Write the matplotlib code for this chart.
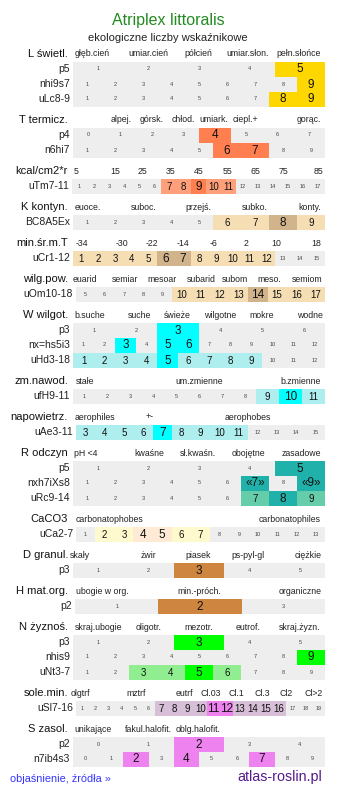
import matplotlib.pyplot as plt

plt.rcParams['font.family'] = ['Liberation Sans', 'DejaVu Sans']

title = 'Atriplex littoralis'
subtitle = 'ekologiczne liczby wskaźnikowe'
link_text = 'objaśnienie, źródła »'
site_text = 'atlas-roslin.pl'

# marks: 1 = main value (big), 2 = secondary value (medium)
L_head = 'L świetl.'
L_cats = ['głęb.cień', 'umiar.cień', 'półcień', 'umiar.słon.', 'pełn.słońce']
L_rows = ['p5', 'nhi9s7', 'uLc8-9']
L_ranges = [(1, 5), (1, 9), (1, 9)]
L_marks = [{5: 1}, {9: 1}, {8: 1, 9: 1}]

T_head = 'T termicz.'
T_cats = ['alpej.', 'górsk.', 'chłod.', 'umiark.', 'ciepl.+', 'gorąc.']
T_rows = ['p4', 'n6hi7']
T_ranges = [(0, 7), (1, 9)]
T_marks = [{4: 1}, {6: 1, 7: 1}]

E_head = 'kcal/cm2*r'
E_cats = ['5', '15', '25', '35', '45', '55', '65', '75', '85']
E_rows = ['uTm7-11']
E_ranges = [(1, 17)]
E_marks = [{7: 2, 8: 2, 9: 1, 10: 2, 11: 2}]

K_head = 'K kontyn.'
K_cats = ['euoce.', 'suboc.', 'przejś.', 'subko.', 'konty.']
K_rows = ['BC8A5Ex']
K_ranges = [(1, 9)]
K_marks = [{6: 2, 7: 2, 8: 1, 9: 2}]

C_head = 'min.śr.m.T'
C_cats = ['-34', '-30', '-22', '-14', '-6', '2', '10', '18']
C_rows = ['uCr1-12']
C_ranges = [(1, 15)]
C_marks = [{1: 2, 2: 2, 3: 2, 4: 2, 5: 2, 6: 1, 7: 1, 8: 2, 9: 2, 10: 2, 11: 2, 12: 2}]

O_head = 'wilg.pow.'
O_cats = ['euarid', 'semiar', 'mesoar', 'subarid', 'subom', 'meso.', 'semiom']
O_rows = ['uOm10-18']
O_ranges = [(5, 17)]
O_marks = [{10: 2, 11: 2, 12: 2, 13: 2, 14: 1, 15: 2, 16: 2, 17: 2}]

W_head = 'W wilgot.'
W_cats = ['b.suche', 'suche', 'świeże', 'wilgotne', 'mokre', 'wodne']
W_rows = ['p3', 'nx=hs5i3', 'uHd3-18']
W_ranges = [(1, 6), (1, 12), (1, 12)]
W_marks = [{3: 1}, {3: 1, 5: 1, 6: 1},
           {1: 2, 2: 2, 3: 2, 4: 2, 5: 1, 6: 2, 7: 2, 8: 2, 9: 2}]

F_head = 'zm.nawod.'
F_cats = ['stałe', 'um.zmienne', 'b.zmienne']
F_rows = ['ufH9-11']
F_ranges = [(1, 11)]
F_marks = [{9: 2, 10: 1, 11: 2}]

A_head = 'napowietrz.'
A_cats = ['aerophiles', '+-', 'aerophobes']
A_rows = ['uAe3-11']
A_ranges = [(3, 15)]
A_marks = [{3: 2, 4: 2, 5: 2, 6: 2, 7: 1, 8: 2, 9: 2, 10: 2, 11: 2}]

R_head = 'R odczyn'
R_cats = ['pH <4', 'kwaśne', 'sł.kwaśn.', 'obojętne', 'zasadowe']
R_rows = ['p5', 'nxh7iXs8', 'uRc9-14']
R_ranges = [(1, 5), (1, 9), (1, 9)]
R_marks = [{5: 1}, {7: 1, 9: 1}, {7: 2, 8: 1, 9: 2}]
R_texts = [{}, {7: '«7»', 9: '«9»'}, {}]

Ca_head = 'CaCO3'
Ca_cats = ['carbonatophobes', 'carbonatophiles']
Ca_rows = ['uCa2-7']
Ca_ranges = [(1, 13)]
Ca_marks = [{2: 2, 3: 2, 4: 1, 5: 1, 6: 2, 7: 2}]

D_head = 'D granul.'
D_cats = ['skały', 'żwir', 'piasek', 'ps-pyl-gl', 'ciężkie']
D_rows = ['p3']
D_ranges = [(1, 5)]
D_marks = [{3: 1}]

H_head = 'H mat.org.'
H_cats = ['ubogie w org.', 'min.-próch.', 'organiczne']
H_rows = ['p2']
H_ranges = [(1, 3)]
H_marks = [{2: 1}]

N_head = 'N żyznoś.'
N_cats = ['skraj.ubogie', 'oligotr.', 'mezotr.', 'eutrof.', 'skraj.żyzn.']
N_rows = ['p3', 'nhis9', 'uNt3-7']
N_ranges = [(1, 5), (1, 9), (1, 9)]
N_marks = [{3: 1}, {9: 1}, {3: 2, 4: 2, 5: 1, 6: 2}]

Sl_head = 'sole.min.'
Sl_cats = ['olgtrf', 'mztrf', 'eutrf', 'Cl.03', 'Cl.1', 'Cl.3', 'Cl2', 'Cl>2']
Sl_rows = ['uSl7-16']
Sl_ranges = [(1, 19)]
Sl_marks = [{7: 2, 8: 2, 9: 2, 10: 2, 11: 1, 12: 1, 13: 2, 14: 2, 15: 2, 16: 2}]

S_head = 'S zasol.'
S_cats = ['unikające', 'fakul.halofit.', 'oblg.halofit.']
S_rows = ['p2', 'n7ib4s3']
S_ranges = [(0, 4), (0, 9)]
S_marks = [{2: 1}, {2: 1, 4: 1, 7: 1}]

# layout / style per section: category x centres, bar left edge, colours
sections = [
    (L_head, L_cats, [92.5, 148, 198, 248, 299], L_rows, L_ranges, L_marks, None, 73, ('#FFD700', '#FFD700')),
    (T_head, T_cats, [121, 151.5, 183, 213.5, 245, 308.5], T_rows, T_ranges, T_marks, None, 73, ('#FF7F50', '#FF7F50')),
    (E_head, E_cats, [75.7, 115, 142.7, 170.7, 199, 227.3, 255, 283, 318.3], E_rows, E_ranges, E_marks, None, 72, ('#FF7F50', '#FFA07A')),
    (K_head, K_cats, [87.3, 143.3, 198.3, 255, 310], K_rows, K_ranges, K_marks, None, 73, ('#D2B48C', '#F5DEB3')),
    (C_head, C_cats, [81.7, 121.7, 152.3, 183.3, 213.3, 245.7, 276, 316.7], C_rows, C_ranges, C_marks, None, 73, ('#D2B48C', '#F5DEB3')),
    (O_head, O_cats, [85, 125, 162.3, 201.7, 235, 269.3, 306.7], O_rows, O_ranges, O_marks, None, 76, ('#D2B48C', '#F5DEB3')),
    (W_head, W_cats, [89.3, 140, 177.7, 220, 261.7, 310], W_rows, W_ranges, W_marks, None, 73, ('#00FFFF', '#AFEEEE')),
    (F_head, F_cats, [85, 199, 301], F_rows, F_ranges, F_marks, None, 73, ('#00FFFF', '#AFEEEE')),
    (A_head, A_cats, [95, 149.3, 248.3], A_rows, A_ranges, A_marks, None, 76, ('#00FFFF', '#AFEEEE')),
    (R_head, R_cats, [86, 149, 198.3, 248.3, 301.7], R_rows, R_ranges, R_marks, R_texts, 73, ('#20B2AA', '#66CDAA')),
    (Ca_head, Ca_cats, [110, 290], Ca_rows, Ca_ranges, Ca_marks, None, 76, ('#FFEBD5', '#FFFACD')),
    (D_head, D_cats, [80, 148.3, 198.3, 248.3, 308.3], D_rows, D_ranges, D_marks, None, 73, ('#CD853F', '#CD853F')),
    (H_head, H_cats, [102.7, 199.3, 300], H_rows, H_ranges, H_marks, None, 75, ('#CD853F', '#CD853F')),
    (N_head, N_cats, [99, 148.3, 198.3, 248.3, 299.3], N_rows, N_ranges, N_marks, None, 73, ('#00FF00', '#90EE90')),
    (Sl_head, Sl_cats, [80.7, 136, 184.3, 210.7, 236.7, 262.7, 286, 313.3], Sl_rows, Sl_ranges, Sl_marks, None, 76, ('#EE82EE', '#D8BFD8')),
    (S_head, S_cats, [93.3, 148.3, 198.3], S_rows, S_ranges, S_marks, None, 73, ('#EE82EE', '#EE82EE')),
]

fig = plt.figure(figsize=(3.37, 7.96), dpi=100)
ax = fig.add_axes([0, 0, 1, 1])
ax.set_xlim(0, 337)
ax.set_ylim(796, 0)
ax.axis('off')

ax.text(168, 20, title, color='#228B22', fontsize=11.5, ha='center', va='center')
ax.text(168, 38, subtitle, color='#222222', fontsize=8, ha='center', va='center')

x_right = 325
row_h = 15
y = 54
for head, cats, cat_x, rows, ranges, marks, texts, x0, colors in sections:
    ax.text(68, y, head, fontsize=8, ha='right', va='center', color='#111111')
    for cx, c in zip(cat_x, cats):
        ax.text(cx, y, c, fontsize=6.3, ha='center', va='center', color='#222222')
    for i, (lab, (lo, hi), mk) in enumerate(zip(rows, ranges, marks)):
        y += row_h
        n = hi - lo + 1
        w = (x_right - x0) / n
        ax.barh(y, x_right - x0, left=x0, height=row_h, color='#EEEEEE', linewidth=0)
        ax.text(x0 - 3, y, lab, fontsize=7.5, ha='right', va='center', color='#222222')
        for k in range(n):
            v = lo + k
            cx = x0 + (k + 0.5) * w
            s = str(v)
            if texts and v in texts[i]:
                s = texts[i][v]
            if v in mk:
                lvl = mk[v]
                ax.barh(y, w, left=x0 + k * w, height=row_h, color=colors[lvl - 1], linewidth=0)
                fs = 8.5 if lvl == 1 else 7
                ax.text(cx, y + 0.5, s, fontsize=fs, ha='center', va='center', color='#111111')
            else:
                ax.text(cx, y, s, fontsize=4, ha='center', va='center', color='#444444')
    y += 21

ax.text(10, 779, link_text, fontsize=7.8, color='#3333FF', ha='left', va='center')
ax.text(322, 777, site_text, fontsize=10.3, color='#551A8B', ha='right', va='center')

fig.savefig('out.png', dpi=100)
